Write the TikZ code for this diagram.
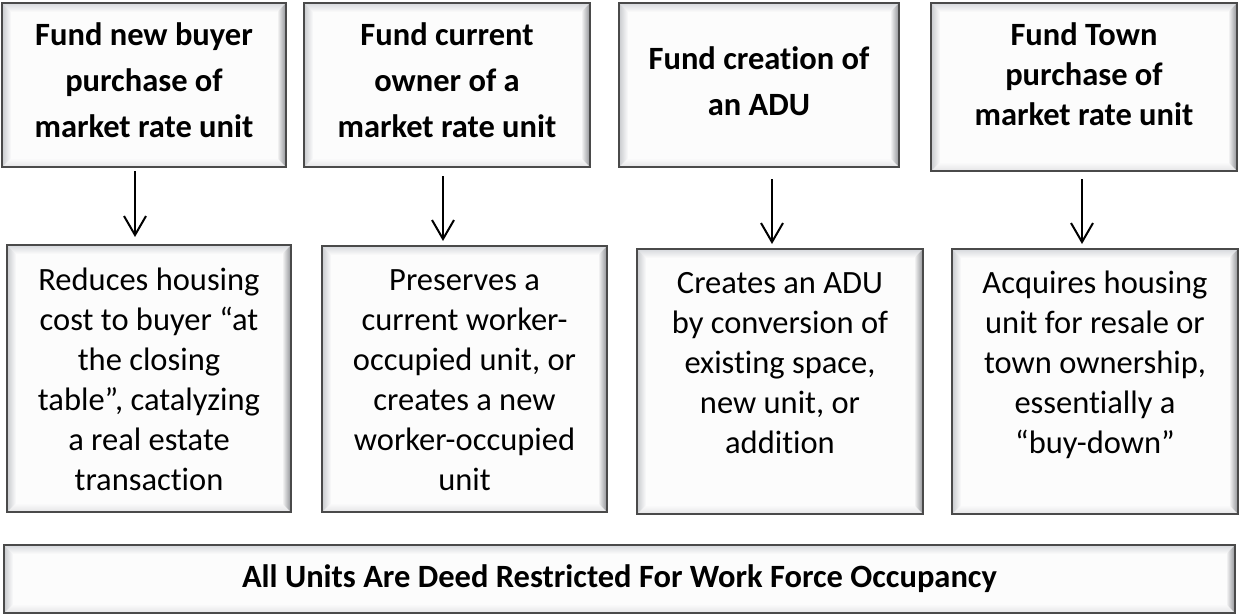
\documentclass[tikz,border=0pt]{standalone}
\usepackage{fontspec}
\setmainfont{Carlito}[Ligatures=NoCommon]
\usetikzlibrary{calc,arrows.meta,fit}

\definecolor{rimgray}{HTML}{4A4A4A}
\definecolor{bevtop}{HTML}{D6D8DC}
\definecolor{bevbot}{HTML}{E4E4E6}
\definecolor{bevleft}{HTML}{C8CACE}
\definecolor{bevright}{HTML}{8E9094}
\definecolor{face}{HTML}{FCFCFC}

\newcommand\bevw{9}
% four shaded trapezoids give each panel its raised, bevelled edge
\newcommand\bevel[1]{%
  \shade[top color=bevtop, bottom color=face]
    (#1.north west) -- (#1.north east) -- ($(#1.north east)+(-\bevw,\bevw)$)
    -- ($(#1.north west)+(\bevw,\bevw)$) -- cycle;
  \shade[top color=face, bottom color=bevbot]
    (#1.south west) -- (#1.south east) -- ($(#1.south east)+(-\bevw,-\bevw)$)
    -- ($(#1.south west)+(\bevw,-\bevw)$) -- cycle;
  \shade[left color=bevleft, right color=face]
    (#1.north west) -- ($(#1.north west)+(\bevw,\bevw)$)
    -- ($(#1.south west)+(\bevw,-\bevw)$) -- (#1.south west) -- cycle;
  \shade[left color=face, right color=bevright]
    (#1.north east) -- ($(#1.north east)+(-\bevw,\bevw)$)
    -- ($(#1.south east)+(-\bevw,-\bevw)$) -- (#1.south east) -- cycle;
  \draw[rim] (#1.north west) rectangle (#1.south east);
}

\tikzset{
  panel/.style={rectangle, inner sep=0pt, outer sep=0pt, fill=face},
  rim/.style={draw=rimgray, line width=1.8pt},
  headtext/.style={font=\bfseries\fontsize{32.5}{46}\selectfont, align=center,
    anchor=north, inner sep=0pt},
  headtight/.style={headtext, font=\bfseries\fontsize{32.5}{40}\selectfont},
  bodytext/.style={font=\fontsize{32.5}{40}\selectfont, align=center,
    anchor=north, inner sep=0pt},
  bartext/.style={font=\bfseries\fontsize{32.5}{40}\selectfont, anchor=base, inner sep=0pt},
  flow/.style={line width=2pt, -{Straight Barb[length=19pt, width=22pt, line width=2pt]}},
}

\begin{document}
\begin{tikzpicture}[x=1pt, y=-1pt]
  \useasboundingbox (0,0) rectangle (1239,615);

  % funding options
  \node[panel, fit={(2,3) (286,167)}] (b1) {};
  \node[panel, fit={(304,3) (590,167)}] (b2) {};
  \node[panel, fit={(619,3) (899,167)}] (b3) {};
  \node[panel, fit={(931,3) (1237,171)}] (b4) {};
  % outcomes
  \node[panel, fit={(7,245) (291,512)}] (c1) {};
  \node[panel, fit={(322,246) (607,512)}] (c2) {};
  \node[panel, fit={(637,249) (923,514)}] (c3) {};
  \node[panel, fit={(952,249) (1238,514)}] (c4) {};
  % restriction banner
  \node[panel, fit={(4,545) (1235,613)}] (bar) {};

  \bevel{b1}\bevel{b2}\bevel{b3}\bevel{b4}
  \bevel{c1}\bevel{c2}\bevel{c3}\bevel{c4}
  \bevel{bar}

  \node[headtext] (t1) at ($(b1.north)+(0,10)$)
    {\strut Fund new buyer\\purchase of\\market rate unit};
  \node[headtext] (t2) at ($(b2.north)+(0,10)$)
    {\strut Fund current\\owner of a\\market rate unit};
  \node[headtext] (t3) at ($(b3.north)+(0,34)$)
    {\strut Fund creation of\\an ADU};
  \node[headtight] (t4) at ($(b4.north)+(0,14)$)
    {\strut Fund Town\\purchase of\\market rate unit};

  \node[bodytext] (u1) at ($(c1.north)+(0,17)$)
    {\strut Reduces housing\\cost to buyer “at\\the closing\\table”, catalyzing\\a real estate\\transaction};
  \node[bodytext] (u2) at ($(c2.north)+(0,16)$)
    {\strut Preserves a\\current worker-\\occupied unit, or\\creates a new\\worker-occupied\\unit};
  \node[bodytext] (u3) at ($(c3.north)+(0,16)$)
    {\strut Creates an ADU\\by conversion of\\existing space,\\new unit, or\\addition};
  \node[bodytext] (u4) at ($(c4.north)+(0,16)$)
    {\strut Acquires housing\\unit for resale or\\town ownership,\\essentially a\\“buy-down”};

  \node[bartext] (bt) at ($(bar.center)+(0,8)$)
    {All Units Are Deed Restricted For Work Force Occupancy};

  % arrows from each option to its outcome
  \coordinate (x1) at (135,0);
  \coordinate (x2) at (443,0);
  \coordinate (x3) at (772,0);
  \coordinate (x4) at (1082,0);
  \draw[flow, shorten <=4pt, shorten >=8pt] (b1.south -| x1) -- (c1.north -| x1);
  \draw[flow, shorten <=9pt, shorten >=5pt] (b2.south -| x2) -- (c2.north -| x2);
  \draw[flow, shorten <=12pt, shorten >=5pt] (b3.south -| x3) -- (c3.north -| x3);
  \draw[flow, shorten <=8pt, shorten >=5pt] (b4.south -| x4) -- (c4.north -| x4);
\end{tikzpicture}
\end{document}
